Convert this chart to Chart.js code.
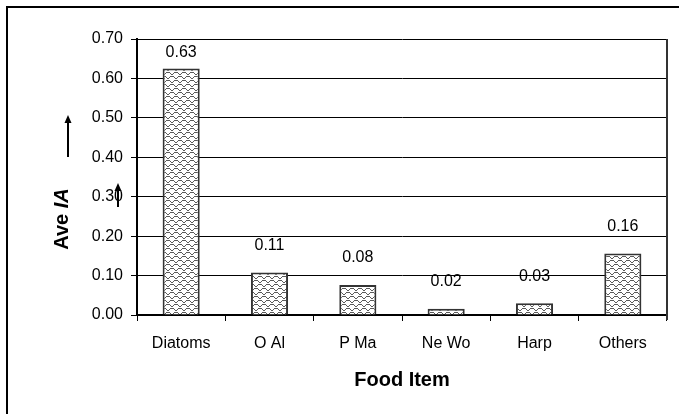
<!DOCTYPE html>
<html>
<head>
<meta charset="utf-8">
<script src="https://cdn.jsdelivr.net/npm/chart.js@4.4.1/dist/chart.umd.min.js"></script>
<style>
  html, body { margin: 0; padding: 0; background: #fff; }
  #wrap { width: 679px; height: 414px; position: relative; }
  canvas { display: block; }
</style>
</head>
<body>
<div id="wrap"><canvas id="chart" width="679" height="414"></canvas></div>
<script>
// Average IA per food item
const foodItems = ['Diatoms', 'O Al', 'P Ma', 'Ne Wo', 'Harp', 'Others'];
const aveIA = [0.625, 0.108, 0.076, 0.016, 0.030, 0.156];
const yTickValues = [0.00, 0.10, 0.20, 0.30, 0.40, 0.50, 0.60, 0.70];

const FONT = 'Arial, "Liberation Sans", sans-serif';

// Small woven hatch used as the bar fill
function makeWeave() {
  const rows = [
    '11000011',
    '00100100',
    '00011000',
    '00000000',
    '00111100',
    '01000010',
    '10000001',
    '00000000'
  ];
  const t = document.createElement('canvas');
  t.width = 8; t.height = 8;
  const g = t.getContext('2d');
  g.fillStyle = '#ffffff';
  g.fillRect(0, 0, 8, 8);
  g.fillStyle = '#5a5a5a';
  rows.forEach((r, y) => {
    for (let x = 0; x < r.length; x++) if (r[x] === '1') g.fillRect(x, y, 1, 1);
  });
  return g.createPattern(t, 'repeat');
}

const ctx = document.getElementById('chart').getContext('2d');

// Outer frame lines and white background
const framePlugin = {
  id: 'frame',
  beforeDraw(chart) {
    const c = chart.ctx;
    c.save();
    c.fillStyle = '#fff';
    c.fillRect(0, 0, chart.width, chart.height);
    c.fillStyle = '#000';
    c.fillRect(6, 6, 2, chart.height - 6);
    c.fillRect(6, 6, chart.width - 6, 2);
    c.restore();
  },
  afterDraw(chart) {
    const c = chart.ctx, a = chart.chartArea;
    c.save();
    c.strokeStyle = '#333';
    c.lineWidth = 2;
    c.beginPath();
    c.moveTo(a.right, a.top);
    c.lineTo(a.right, a.bottom + 5);
    c.stroke();
    c.restore();
  }
};

// Value labels above each bar
const valueLabels = {
  id: 'valueLabels',
  afterDatasetsDraw(chart) {
    const c = chart.ctx, a = chart.chartArea;
    const meta = chart.getDatasetMeta(0);
    c.save();
    c.font = '16px ' + FONT;
    c.fillStyle = '#000';
    c.textAlign = 'center';
    c.textBaseline = 'middle';
    meta.data.forEach((bar, i) => {
      const y = Math.max(bar.y - 27, a.top + 14);
      c.fillText(aveIA[i].toFixed(2), bar.x, y);
    });
    c.restore();
  }
};

// Rotated y-axis title with italic "IA", plus the up arrows beside it
const yTitle = {
  id: 'yTitle',
  afterDraw(chart) {
    const c = chart.ctx;
    c.save();
    c.translate(62, 219);
    c.rotate(-Math.PI / 2);
    c.fillStyle = '#000';
    c.textBaseline = 'middle';
    c.textAlign = 'left';
    const f1 = 'bold 20px ' + FONT, f2 = 'italic bold 20px ' + FONT;
    c.font = f1; const w1 = c.measureText('Ave ').width;
    c.font = f2; const w2 = c.measureText('IA').width;
    const x0 = -(w1 + w2) / 2;
    c.font = f1; c.fillText('Ave ', x0, 0);
    c.font = f2; c.fillText('IA', x0 + w1, 0);
    c.restore();

    function arrow(x, yTail, yTip) {
      c.save();
      c.strokeStyle = '#000';
      c.fillStyle = '#000';
      c.lineWidth = 2;
      c.beginPath();
      c.moveTo(x, yTail);
      c.lineTo(x, yTip + 6);
      c.stroke();
      c.beginPath();
      c.moveTo(x, yTip);
      c.lineTo(x - 3.5, yTip + 8);
      c.lineTo(x + 3.5, yTip + 8);
      c.closePath();
      c.fill();
      c.restore();
    }
    arrow(68, 157, 115);
    arrow(118, 207, 183);
  }
};

new Chart(ctx, {
  type: 'bar',
  data: {
    labels: foodItems,
    datasets: [{
      data: aveIA,
      backgroundColor: makeWeave(),
      borderColor: '#333',
      borderWidth: 2,
      barPercentage: 0.42,
      categoryPercentage: 1.0
    }]
  },
  options: {
    responsive: false,
    animation: false,
    devicePixelRatio: 1,
    layout: { padding: { left: 0, top: 39, right: 12, bottom: 0 } },
    plugins: {
      legend: { display: false },
      tooltip: { enabled: false }
    },
    scales: {
      x: {
        grid: {
          drawOnChartArea: false,
          offset: true,
          color: '#000',
          lineWidth: 1,
          tickLength: 6
        },
        border: { display: true, color: '#000', width: 2 },
        ticks: {
          color: '#000',
          font: { family: FONT, size: 16 },
          padding: 13,
          maxRotation: 0,
          autoSkip: false
        },
        title: {
          display: true,
          text: 'Food Item',
          color: '#000',
          font: { family: FONT, size: 20, weight: 'bold' },
          padding: { top: 0, bottom: 22 }
        },
        afterFit(scale) { scale.height = 99; }
      },
      y: {
        min: 0,
        max: 0.7,
        afterBuildTicks(scale) {
          scale.ticks = yTickValues.map(v => ({ value: v }));
        },
        grid: {
          color: '#000',
          lineWidth: 1,
          tickLength: 6
        },
        border: { display: true, color: '#000', width: 2 },
        ticks: {
          color: '#000',
          font: { family: FONT, size: 16 },
          padding: 8,
          callback: v => Number(v).toFixed(2)
        },
        afterFit(scale) { scale.width = 137; }
      }
    }
  },
  plugins: [framePlugin, valueLabels, yTitle]
});
</script>
</body>
</html>
